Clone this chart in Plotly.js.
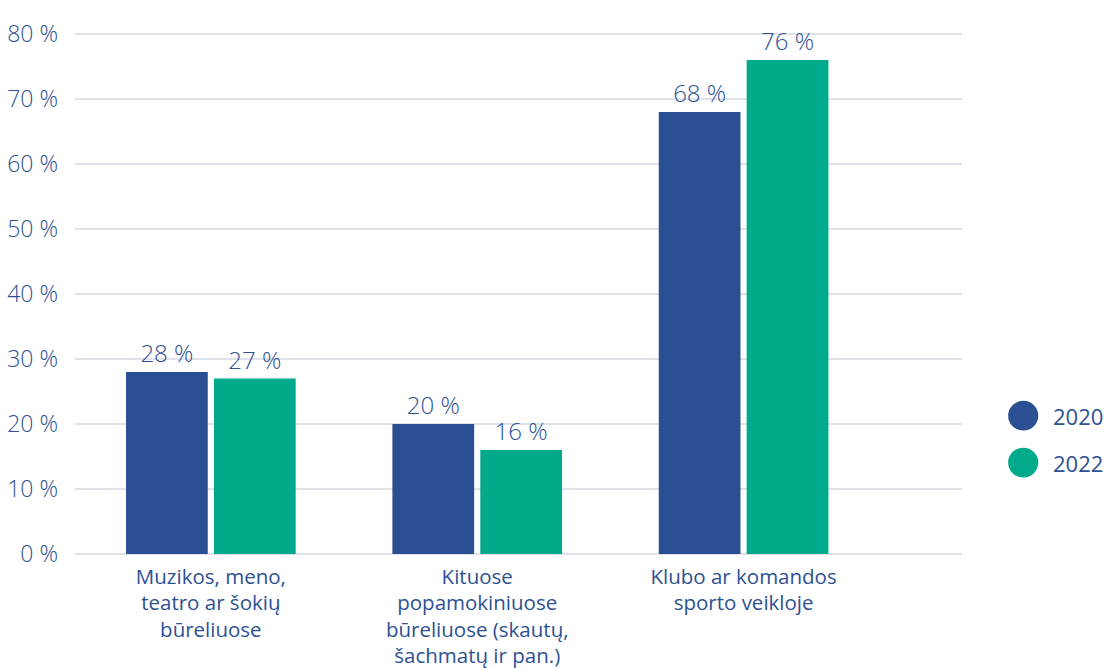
<!DOCTYPE html>
<html>
<head>
<meta charset="utf-8">
<script src="https://cdn.plot.ly/plotly-3.0.1.min.js"></script>
<style>html,body{margin:0;padding:0;background:#fff;}#chart{width:1111px;height:668px;}</style>
</head>
<body>
<div id="chart"></div>
<script>
const categories = [
  "Muzikos, meno,<br>teatro ar šokių<br>būreliuose",
  "Kituose<br>popamokiniuose<br>būreliuose (skautų,<br>šachmatų ir pan.)",
  "Klubo ar komandos<br>sporto veikloje"
];
const seriesNames = ["2020", "2022"];
const values2020 = [28, 20, 68];
const values2022 = [27, 16, 76];
const tickValues = [0, 10, 20, 30, 40, 50, 60, 70, 80];

const textColor = "#2d5193";
const colors = ["#2a5093", "#00aa8b"];
const numFont = "'Open Sans', Lato, sans-serif";
const catFont = "'Open Sans', sans-serif";

const traces = [values2020, values2022].map((vals, i) => ({
  type: "bar",
  name: seriesNames[i],
  x: categories,
  y: vals,
  marker: {color: colors[i]},
  text: vals.map(v => v + " %"),
  textposition: "outside",
  textfont: {size: 24, color: textColor, family: numFont, weight: 300},
  cliponaxis: false,
  showlegend: false,
  hoverinfo: "none"
}));

const legendShapes = seriesNames.map((n, i) => ({
  type: "circle", xref: "paper", yref: "paper",
  x0: 1.052, x1: 1.086,
  y0: 0.2315 - i * 0.088, y1: 0.2875 - i * 0.088,
  fillcolor: colors[i], line: {width: 0}
}));
const legendText = seriesNames.map((n, i) => ({
  xref: "paper", yref: "paper", x: 1.1, y: 0.2595 - i * 0.088,
  xanchor: "left", yanchor: "middle", showarrow: false,
  text: n, font: {size: 22, color: textColor, family: numFont}
}));

const layout = {
  width: 1111, height: 668,
  margin: {l: 75, r: 149, t: 21, b: 114},
  paper_bgcolor: "#fff", plot_bgcolor: "#fff",
  barmode: "group", bargap: 0.34, bargroupgap: 0.07,
  font: {family: numFont, color: textColor},
  xaxis: {
    type: "category",
    range: [-0.51, 2.82],
    showgrid: false, zeroline: false, showline: false,
    ticks: "", tickfont: {size: 20.5, color: textColor, family: catFont},
    ticklabelstandoff: 8
  },
  yaxis: {
    range: [0, 82],
    tickvals: tickValues,
    ticktext: tickValues.map(v => v + " %"),
    showgrid: true, gridcolor: "#e1e2e8", gridwidth: 2,
    zeroline: true, zerolinecolor: "#e1e2e8", zerolinewidth: 2,
    showline: false, ticks: "",
    tickfont: {size: 23, color: textColor, family: numFont, weight: 300},
    ticklabelstandoff: 16
  },
  shapes: legendShapes,
  annotations: legendText
};

Plotly.newPlot("chart", traces, layout, {displayModeBar: false, staticPlot: true});
</script>
</body>
</html>
